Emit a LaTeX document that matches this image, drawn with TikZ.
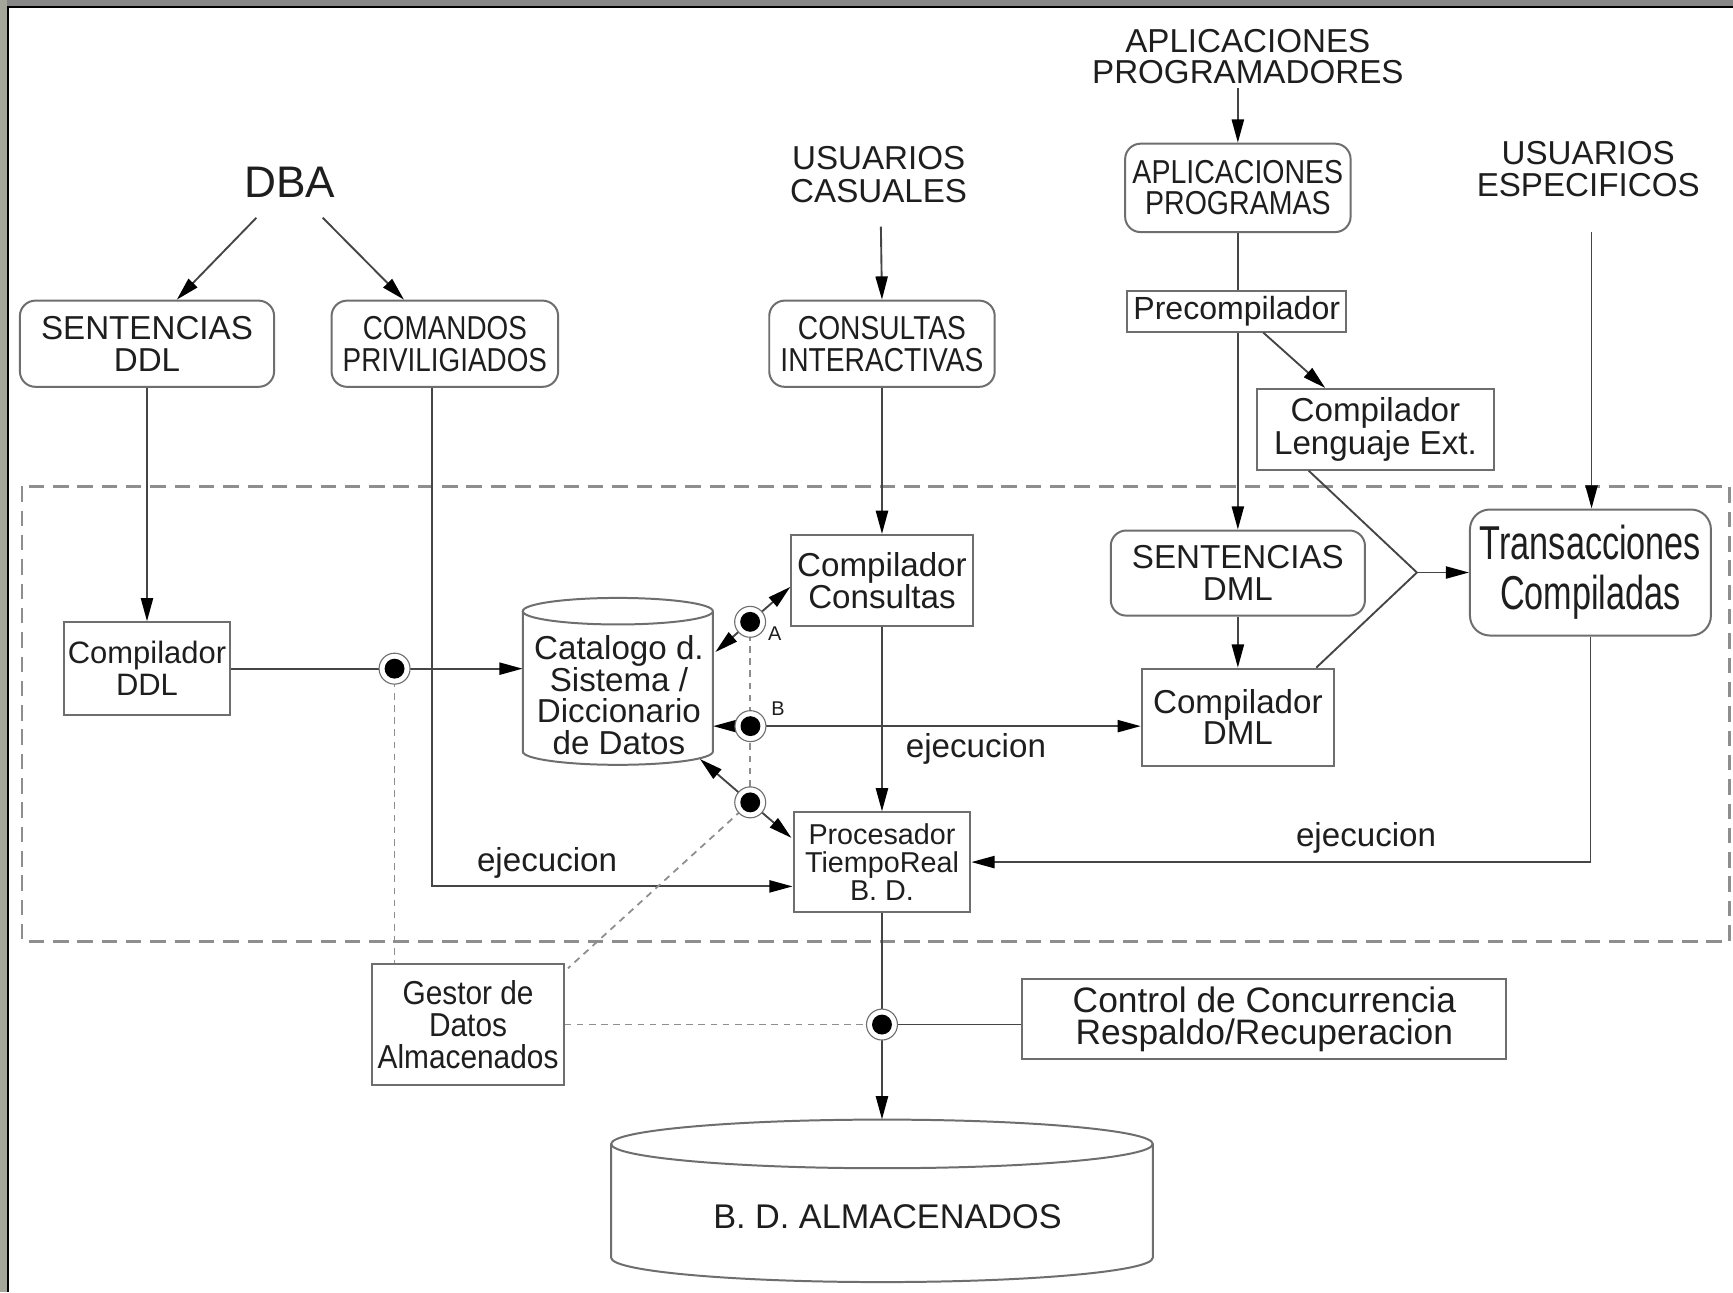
\documentclass[tikz,border=0pt]{standalone}
\usepackage{fontspec}
\setmainfont{Liberation Sans}
\usepackage{graphicx}
\usetikzlibrary{arrows.meta,calc}
\definecolor{lncol}{HTML}{454545}
\definecolor{bxcol}{HTML}{6E6E6E}
\definecolor{dshcol}{HTML}{8E8E8E}
\definecolor{txcol}{HTML}{1E1E1E}
\newcommand{\nw}[2]{\scalebox{#1}[1]{#2}}
\newcommand{\fsz}[2]{\fontsize{#1}{#2}\selectfont}
\begin{document}
\begin{tikzpicture}[x=1pt,y=-1pt,
 boxn/.style={draw=bxcol, line width=1.8pt, fill=white, inner sep=0pt, align=center, text=txcol},
 rboxn/.style={boxn, rounded corners=14pt},
 lbl/.style={inner sep=0pt, align=center, text=txcol},
 conn/.style={draw=lncol, line width=1.7pt},
 arr/.style={conn, -{Triangle[length=21pt,width=11pt,color=black]}},
 darr/.style={conn, {Triangle[length=21pt,width=11pt,color=black]}-{Triangle[length=21pt,width=11pt,color=black]}},
 dotl/.style={draw=dshcol, line width=1.6pt, dash pattern=on 6pt off 5pt},
 bul/.style={circle, draw=bxcol, line width=1pt, fill=white, minimum size=28pt, inner sep=0pt,
   path picture={\fill[black] (path picture bounding box.center) circle (9pt);}},
]
% page and frame
\useasboundingbox (0,0) rectangle (1568,1169);
\fill[white] (0,0) rectangle (1568,1169);
\fill[black!47] (0,0) rectangle (1568,5);
\fill[black] (0,5) rectangle (1568,7.5);
\fill[fill={rgb,255:red,164;green,166;blue,154}] (0,0) rectangle (6,1169);
\fill[black] (6,5) rectangle (8.5,1169);

% dashed region
\draw[draw=dshcol, line width=2.4pt, dash pattern=on 14pt off 8pt] (20,440) rectangle (1565,852);

% cylinders
\node[inner sep=0pt, minimum width=172pt, minimum height=151pt] (cat) at (559,616) {};
\draw[draw=bxcol, line width=1.8pt, fill=white] (473,553) -- (473,680)
  arc[start angle=180, end angle=360, x radius=86pt, y radius=12pt] -- (645,553);
\draw[draw=bxcol, line width=1.8pt, fill=white] (559,553) ellipse [x radius=86pt, y radius=12pt];
\node[lbl, font=\fsz{30}{28.7}] (cattxt) at (560,629) {Catalogo d.\\Sistema /\\Diccionario\\de Datos};

\node[inner sep=0pt, minimum width=490pt, minimum height=147pt] (bd) at (798,1086.5) {};
\draw[draw=bxcol, line width=1.8pt, fill=white] (553,1035) -- (553,1138)
  arc[start angle=180, end angle=360, x radius=245pt, y radius=22pt] -- (1043,1035);
\draw[draw=bxcol, line width=1.8pt, fill=white] (798,1035) ellipse [x radius=245pt, y radius=22pt];
\node[lbl, font=\fsz{31}{31}] (bdtxt) at (803,1101) {B. D. ALMACENADOS};

% free texts
\node[lbl, font=\fsz{40}{40}] (dba) at (262,165) {DBA};
\node[lbl, font=\fsz{30}{30}] (usc) at (795,158) {USUARIOS\\CASUALES};
\node[lbl, font=\fsz{30}{28}] (apt) at (1129,51) {APLICACIONES\\PROGRAMADORES};
\node[lbl, font=\fsz{30}{29}] (use) at (1437,153) {USUARIOS\\ESPECIFICOS};

% boxes
\node[rboxn, minimum width=230pt, minimum height=78pt, font=\fsz{30}{29}] (sddl) at (133,311) {SENTENCIAS\\DDL};
\node[rboxn, minimum width=205pt, minimum height=78pt, font=\fsz{30}{29}] (cp) at (402.5,311) {\nw{0.84}{COMANDOS}\\\nw{0.84}{PRIVILIGIADOS}};
\node[rboxn, minimum width=204pt, minimum height=78pt, font=\fsz{30}{29}] (cons) at (798,311) {\nw{0.85}{CONSULTAS}\\\nw{0.85}{INTERACTIVAS}};
\node[rboxn, minimum width=204pt, minimum height=80pt, font=\fsz{30}{28}] (ap) at (1120,170) {\nw{0.86}{APLICACIONES}\\\nw{0.86}{PROGRAMAS}};
\node[boxn, minimum width=198pt, minimum height=37pt, font=\fsz{29}{29}] (pre) at (1119,281.5) {Precompilador};
\node[boxn, minimum width=215pt, minimum height=73pt, font=\fsz{30}{30}] (cle) at (1244.5,388.5) {Compilador\\Lenguaje Ext.};
\node[boxn, minimum width=150pt, minimum height=84pt, font=\fsz{28}{29}] (ddl) at (133,605) {Compilador\\DDL};
\node[boxn, minimum width=164pt, minimum height=82pt, font=\fsz{30}{29}] (cc) at (798,525) {Compilador\\Consultas};
\node[rboxn, minimum width=230pt, minimum height=77pt, font=\fsz{30}{29}] (sdml) at (1120,518.5) {SENTENCIAS\\DML};
\node[boxn, minimum width=174pt, minimum height=88pt, font=\fsz{30}{28}] (cdml) at (1120,649) {Compilador\\DML};
\node[rboxn, rounded corners=18pt, minimum width=218pt, minimum height=114pt, font=\fsz{43}{45}] (trans) at (1439,518) {\nw{0.72}{Transacciones}\\\nw{0.72}{Compiladas}};
\node[boxn, minimum width=160pt, minimum height=90pt, font=\fsz{26}{25}] (proc) at (798,780) {Procesador\\TiempoReal\\B. D.};
\node[boxn, minimum width=173pt, minimum height=110pt, font=\fsz{30}{29}] (gestor) at (423.5,927) {\nw{0.9}{Gestor de}\\\nw{0.9}{Datos}\\\nw{0.9}{Almacenados}};
\node[boxn, minimum width=438pt, minimum height=72pt, font=\fsz{32}{29}] (ctrl) at (1144,922) {Control de Concurrencia\\Respaldo/Recuperacion};

% labels
\node[lbl, font=\fsz{30}{30}] (ej1) at (495,781) {ejecucion};
\node[lbl, font=\fsz{30}{30}] (ej2) at (883,678) {ejecucion};
\node[lbl, font=\fsz{30}{30}] (ej3) at (1236,758) {ejecucion};
\node[lbl, font=\fsz{18}{18}] (la) at (701,573) {A};
\node[lbl, font=\fsz{18}{18}] (lb) at (704,641) {B};

% free ends and junctions
\coordinate (dbaL) at (232,197);
\coordinate (dbaR) at (292,197);
\coordinate (uscS) at (797,205);
\coordinate (aptS) at (1120,80);
\coordinate (useS) at (1440,210);
\coordinate (jn) at (1282,518);
\coordinate (b1) at (357,605);
\coordinate (catA) at ($(cat.east)+(2,-26)$);
\coordinate (ccA) at ($(cc.west)+(0,6)$);
\coordinate (bA) at ($(catA)!0.464!(ccA)$);
\coordinate (bB) at (679,657);
\coordinate (catC) at ($(cat.south east)+(-12,-5)$);
\coordinate (procC) at ($(proc.north west)+(-1,24)$);
\coordinate (bC) at ($(catC)!0.55!(procC)$);
\coordinate (bD) at (798,927);

% connectors
\draw[arr] (dbaL) -- ($(sddl.north)+(27,0)$);
\draw[arr] (dbaR) -- ($(cp.north)+(-37,0)$);
\draw[arr] (sddl.south) -- (ddl.north);
\draw[arr] ($(cp.south)+(-12,0)$) |- ($(proc.west)+(0,22)$);
\draw[arr] (ddl.east) -- (ddl.east -| cat.west);
\draw[dotl] (b1) -- (b1 |- gestor.north);
\draw[arr] (uscS) -- (cons.north);
\draw[arr] (cons.south) -- (cc.north);
\draw[arr] (cc.south) -- (proc.north);
\draw[darr] (catA) -- (ccA);
\draw[darr] (bB -| cat.east) -- (bB -| cdml.west);
\draw[darr] (catC) -- (procC);
\draw[dotl] (bA) -- (bA |- bC);
\draw[dotl] (bC) -- ($(gestor.north east)+(3,5)$);
\draw[arr] (proc.south) -- (proc.south |- bd.north);
\draw[dotl] (gestor.east) -- (bD);
\draw[conn] (bD) -- (bD -| ctrl.west);
\draw[arr] (aptS) -- (ap.north);
\draw[conn] (ap.south) -- (ap.south |- pre.north);
\draw[arr] (ap.south |- pre.south) -- (ap.south |- sdml.north);
\draw[arr] ($(pre.south)+(24,0)$) -- ($(cle.north west)+(63,0)$);
\draw[arr] (sdml.south) -- (cdml.north);
\draw[conn] ($(cle.south west)+(48,0)$) -- (jn) -- ($(cdml.north east)+(-17,0)$);
\draw[arr] (jn) -- (trans.west);
\draw[arr] (useS) -- (useS |- trans.north);
\draw[arr] (trans.south) |- (proc.east);

% junction bullets
\node[bul] (b1n) at (b1) {};
\node[bul] (bAn) at (bA) {};
\node[bul] (bBn) at (bB) {};
\node[bul] (bCn) at (bC) {};
\node[bul] (bDn) at (bD) {};
\end{tikzpicture}
\end{document}
